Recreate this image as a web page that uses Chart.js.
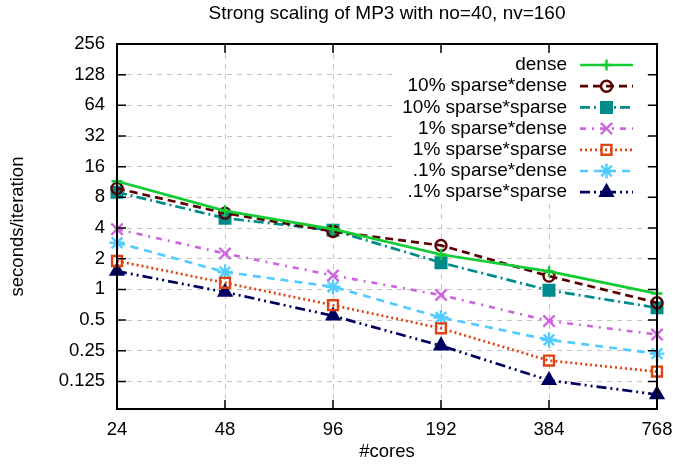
<!DOCTYPE html>
<html>
<head>
<meta charset="utf-8">
<script src="https://cdn.jsdelivr.net/npm/chart.js@4.4.0/dist/chart.umd.min.js"></script>
<style>
    body { margin: 0; background: #fff; }
    #wrap { width: 675px; height: 465px; }
</style>
</head>
<body>
<div id="wrap"><canvas id="myChart"></canvas></div>
<script>
const cores = [24, 48, 96, 192, 384, 768];
const yTicks = [0.125, 0.25, 0.5, 1, 2, 4, 8, 16, 32, 64, 128, 256];

const dense        = [11.5, 5.9, 3.9, 2.2, 1.5, 0.91];
const sd10         = [9.8, 5.6, 3.7, 2.7, 1.35, 0.74];
const ss10         = [9.0, 5.0, 3.8, 1.83, 0.98, 0.66];
const sd1          = [3.9, 2.25, 1.37, 0.88, 0.49, 0.36];
const ss1          = [1.9, 1.16, 0.70, 0.415, 0.20, 0.156];
const sd01         = [2.87, 1.48, 1.06, 0.53, 0.32, 0.234];
const ss01         = [1.51, 0.94, 0.55, 0.28, 0.128, 0.093];

const FONT = "'Liberation Sans', Arial, sans-serif";

function series(label, values, color, dash, style, radius, filled) {
    return {
        label: label,
        data: values.map((v, i) => ({ x: cores[i], y: v })),
        borderColor: color,
        backgroundColor: filled ? color : 'rgba(0,0,0,0)',
        borderWidth: 2.7,
        borderDash: dash,
        pointStyle: style,
        pointRadius: radius,
        pointBorderWidth: 2.4,
        pointBorderColor: color,
        pointBackgroundColor: filled ? color : 'rgba(0,0,0,0)',
        tension: 0,
        clip: false
    };
}

const datasets = [
    series('dense', dense, '#11cc33', [], 'cross', 5.5, false),
    series('10% sparse*dense', sd10, '#5a0000', [8, 5], 'circle', 5.5, false),
    series('10% sparse*sparse', ss10, '#008b8b', [10, 4, 2, 4], 'rect', 7.5, true),
    series('1% sparse*dense', sd1, '#cc66dd', [6, 6, 2, 6], 'crossRot', 8, false),
    series('1% sparse*sparse', ss1, '#dd4411', [2, 3], 'rect', 7, false),
    series('.1% sparse*dense', sd01, '#55ccff', [8, 6], 'star', 7.5, false),
    series('.1% sparse*sparse', ss01, '#000060', [10, 4, 2, 4, 2, 4], 'triangle', 7, true)
];

// title, frame with inward ticks, and the gnuplot-style key
const framePlugin = {
    id: 'frame',
    afterDraw(chart) {
        const ctx = chart.ctx;
        const a = chart.chartArea;
        const xs = chart.scales.x, ys = chart.scales.y;
        ctx.save();

        // title
        ctx.fillStyle = '#000';
        ctx.font = '19px ' + FONT;
        ctx.textAlign = 'center';
        ctx.textBaseline = 'middle';
        ctx.fillText('Strong scaling of MP3 with no=40, nv=160', (a.left + a.right) / 2, 14);

        // key box
        const boxL = 395, boxT = 53, boxB = 203, boxR = a.right - 12;
        ctx.fillStyle = '#fff';
        ctx.fillRect(boxL, boxT, boxR - boxL, boxB - boxT);

        // tick marks inside the frame
        ctx.strokeStyle = '#000';
        ctx.lineWidth = 1.5;
        ctx.setLineDash([]);
        ctx.beginPath();
        yTicks.forEach(v => {
            const py = ys.getPixelForValue(v);
            ctx.moveTo(a.left, py); ctx.lineTo(a.left + 9, py);
            ctx.moveTo(a.right, py); ctx.lineTo(a.right - 9, py);
        });
        cores.forEach(v => {
            const px = xs.getPixelForValue(v);
            ctx.moveTo(px, a.bottom); ctx.lineTo(px, a.bottom - 9);
            ctx.moveTo(px, a.top); ctx.lineTo(px, a.top + 9);
        });
        ctx.stroke();

        // border
        ctx.lineWidth = 2;
        ctx.strokeRect(a.left, a.top, a.right - a.left, a.bottom - a.top);

        // key entries
        ctx.font = '19px ' + FONT;
        ctx.textAlign = 'right';
        ctx.textBaseline = 'middle';
        chart.data.datasets.forEach((ds, i) => {
            const y = 65 + i * 21.2;
            ctx.fillStyle = '#000';
            ctx.fillText(ds.label, 567, y);
            ctx.strokeStyle = ds.borderColor;
            ctx.lineWidth = ds.borderWidth;
            ctx.setLineDash(ds.borderDash);
            ctx.beginPath();
            ctx.moveTo(580, y);
            ctx.lineTo(633, y);
            ctx.stroke();
            ctx.setLineDash([]);
            ctx.fillStyle = ds.pointBackgroundColor;
            ctx.lineWidth = ds.pointBorderWidth;
            Chart.helpers.drawPoint(ctx, {
                pointStyle: ds.pointStyle,
                radius: ds.pointRadius,
                borderWidth: ds.pointBorderWidth,
                rotation: 0
            }, 606.5, y);
        });
        ctx.restore();
    }
};

const config = {
    type: 'line',
    data: { datasets: datasets },
    options: {
        responsive: true,
        maintainAspectRatio: false,
        animation: false,
        layout: { padding: { top: 44, right: 18, left: 0, bottom: 0 } },
        plugins: {
            legend: { display: false },
            tooltip: { enabled: false }
        },
        scales: {
            x: {
                type: 'logarithmic',
                min: 24,
                max: 768,
                afterBuildTicks: scale => { scale.ticks = cores.map(v => ({ value: v })); },
                afterFit: scale => {
                    scale.height = 56;
                    scale.paddingLeft = 0;
                    scale.paddingRight = 0;
                },
                ticks: {
                    color: '#000',
                    font: { family: FONT, size: 18.5 },
                    padding: 10,
                    maxRotation: 0,
                    autoSkip: false,
                    callback: v => String(v)
                },
                grid: { color: '#c4c4c4', lineWidth: 1, drawTicks: false },
                border: { display: false, dash: [5, 5] },
                title: {
                    display: true,
                    text: '#cores',
                    color: '#000',
                    font: { family: FONT, size: 18.5 },
                    padding: { top: 0, bottom: 2 }
                }
            },
            y: {
                type: 'logarithmic',
                min: 0.067,
                max: 256,
                afterBuildTicks: scale => { scale.ticks = yTicks.map(v => ({ value: v })); },
                afterFit: scale => {
                    scale.width = 117;
                    scale.paddingTop = 0;
                    scale.paddingBottom = 0;
                },
                ticks: {
                    color: '#000',
                    font: { family: FONT, size: 18.5 },
                    padding: 12,
                    autoSkip: false,
                    callback: v => String(v)
                },
                grid: { color: '#c4c4c4', lineWidth: 1, drawTicks: false },
                border: { display: false, dash: [5, 5] },
                title: {
                    display: true,
                    text: 'seconds/iteration',
                    color: '#000',
                    font: { family: FONT, size: 18.5 },
                    padding: { top: 7, bottom: 0 }
                }
            }
        }
    },
    plugins: [framePlugin]
};

const myChart = new Chart(document.getElementById('myChart'), config);
</script>
</body>
</html>
